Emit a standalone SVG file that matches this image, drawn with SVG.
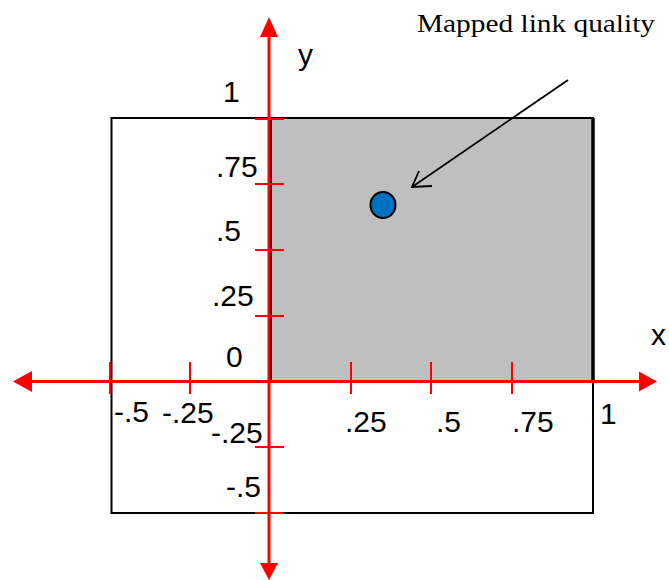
<svg xmlns="http://www.w3.org/2000/svg" width="669" height="580" viewBox="0 0 669 580">
<style>
.lbl{font-family:"Liberation Sans",Arial,sans-serif;font-size:30px;fill:#000}
.ax{stroke:#FF0000;stroke-width:3;fill:none}
.tk{stroke:#FF0000;stroke-width:2;fill:none}
.ah{fill:#FF0000;stroke:none}
</style>
<rect width="669" height="580" fill="#fff"/>
<g id="frame">
<rect x="111.5" y="118" width="481.5" height="395" fill="none" stroke="#000" stroke-width="2"/>
<rect x="271" y="118" width="322" height="263" fill="#BFBFBF" stroke="#000" stroke-width="2"/>
<line x1="593" y1="118" x2="593" y2="381" stroke="#000" stroke-width="3.5"/>
</g>
<g id="axes">
<line class="ax" x1="30" y1="381.5" x2="642" y2="381.5"/>
<polygon class="ah" points="13,381.5 32,371 32,392"/>
<polygon class="ah" points="657,381.5 639,371.5 639,391.5"/>
<line class="ax" x1="269" y1="35" x2="269" y2="565"/>
<polygon class="ah" points="269,17 260,37 278,37"/>
<polygon class="ah" points="269,580 260,563 278,563"/>
<g class="tk">
<line x1="110" y1="362" x2="110" y2="394"/>
<line x1="190" y1="362" x2="190" y2="394"/>
<line x1="351" y1="362" x2="351" y2="394"/>
<line x1="431" y1="362" x2="431" y2="394"/>
<line x1="512" y1="362" x2="512" y2="394"/>
<line x1="255" y1="119" x2="284" y2="119"/>
<line x1="255" y1="184" x2="284" y2="184"/>
<line x1="255" y1="250" x2="284" y2="250"/>
<line x1="255" y1="316" x2="284" y2="316"/>
<line x1="255" y1="447" x2="284" y2="447"/>
<line x1="255" y1="513" x2="284" y2="513"/>
</g>
</g>
<g id="labels">
<text class="lbl" x="298" y="65">y</text>
<text class="lbl" x="651" y="345">x</text>
<text class="lbl" x="223" y="102">1</text>
<text class="lbl" x="216" y="177">.75</text>
<text class="lbl" x="216" y="241">.5</text>
<text class="lbl" x="212" y="306">.25</text>
<text class="lbl" x="226" y="367">0</text>
<text class="lbl" x="114" y="422">-.5</text>
<text class="lbl" x="162" y="423">-.25</text>
<text class="lbl" x="211" y="443">-.25</text>
<text class="lbl" x="226" y="497">-.5</text>
<text class="lbl" x="345" y="432">.25</text>
<text class="lbl" x="436" y="432">.5</text>
<text class="lbl" x="512" y="432">.75</text>
<text class="lbl" x="600" y="424">1</text>
<text x="417" y="32" font-family="'Liberation Serif','Times New Roman',serif" font-size="26" textLength="238" lengthAdjust="spacingAndGlyphs">Mapped link quality</text>
</g>
<g id="point">
<ellipse cx="383" cy="205" rx="12.5" ry="13" fill="#0070C0" stroke="#000" stroke-width="2"/>
</g>
<g id="connectors" stroke="#000" stroke-width="1.8" fill="none">
<line x1="568" y1="80" x2="412" y2="187"/>
<polyline points="419,171 412,187 432,186"/>
</g>
</svg>
